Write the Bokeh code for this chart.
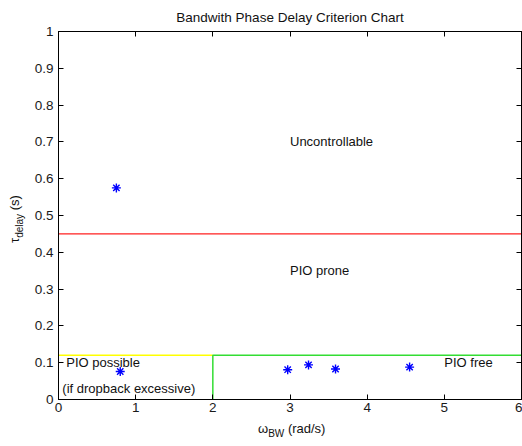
import math
from bokeh.plotting import figure
from bokeh.models import ColumnDataSource, Range1d, LinearAxis, FixedTicker, Div
from bokeh.layouts import row, column
from bokeh.core.properties import value
from bokeh.embed import file_html
from bokeh.resources import INLINE

# ---- data ----
title_text = "Bandwith Phase Delay Criterion Chart"
x_label_main, x_label_sub, x_label_unit = "ω", "BW", "(rad/s)"
y_label_main, y_label_sub, y_label_unit = "τ", "delay", "(s)"

omega_bw = [0.75, 0.80, 2.97, 3.24, 3.59, 4.55]
tau_delay = [0.575, 0.076, 0.081, 0.094, 0.083, 0.088]

x_ticks = [0, 1, 2, 3, 4, 5, 6]
x_tick_labels = ["0", "1", "2", "3", "4", "5", "6"]
y_ticks = [0, 0.1, 0.2, 0.3, 0.4, 0.5, 0.6, 0.7, 0.8, 0.9, 1]
y_tick_labels = ["0", "0.1", "0.2", "0.3", "0.4", "0.5", "0.6", "0.7", "0.8", "0.9", "1"]

# criterion boundaries
red_x = [0, 6]
red_y = [0.45, 0.45]
yellow_x = [0, 2]
yellow_y = [0.12, 0.12]
green_x = [2, 2, 6]
green_y = [0, 0.12, 0.12]

region_labels = ["Uncontrollable", "PIO prone", "PIO possible", "(if dropback excessive)", "PIO free"]
region_x = [3.0, 3.0, 0.1, 0.05, 5.0]
region_y = [0.70, 0.35, 0.10, 0.03, 0.10]

FONT = "Liberation Sans"
FS = "13px"
TXT = "#111111"

p = figure(width=496, height=420, x_range=Range1d(0, 6), y_range=Range1d(0, 1),
           output_backend="svg", toolbar_location=None, margin=0,
           min_border_left=32, min_border_right=1, min_border_top=30, min_border_bottom=21)
p.background_fill_color = "white"
p.border_fill_color = "white"
p.outline_line_color = "black"
p.outline_line_width = 1
p.grid.visible = False

p.title.text = title_text
p.title.align = "center"
p.title.text_font = FONT
p.title.text_font_size = "13.5px"
p.title.text_font_style = "normal"
p.title.text_color = TXT
p.title.standoff = 14
p.title.offset = 0

p.xaxis.ticker = FixedTicker(ticks=x_ticks)
p.yaxis.ticker = FixedTicker(ticks=y_ticks)
p.xaxis.major_label_overrides = dict(zip(x_ticks, x_tick_labels))
p.yaxis.major_label_overrides = dict(zip(y_ticks, y_tick_labels))

for ax in (p.xaxis[0], p.yaxis[0]):
    ax.major_tick_in = 5
    ax.major_tick_out = 0
    ax.minor_tick_line_color = None
    ax.axis_line_color = "black"
    ax.major_tick_line_color = "black"
    ax.major_label_text_font = FONT
    ax.major_label_text_font_size = "13.5px"
    ax.major_label_text_color = "#1a1a1a"
p.xaxis.major_label_standoff = 3
p.yaxis.major_label_standoff = 5

top_axis = LinearAxis(ticker=FixedTicker(ticks=x_ticks),
                      major_label_overrides={t: "" for t in x_ticks})
top_axis.major_label_text_font_size = "1px"
right_axis = LinearAxis(ticker=FixedTicker(ticks=y_ticks),
                        major_label_overrides={t: "" for t in y_ticks})
for ax in (top_axis, right_axis):
    ax.major_tick_in = 5
    ax.major_tick_out = 0
    ax.minor_tick_line_color = None
    ax.major_label_standoff = 0
    ax.axis_line_color = "black"
    ax.major_tick_line_color = "black"
p.add_layout(top_axis, "above")
p.add_layout(right_axis, "right")

# boundaries
p.line(red_x, red_y, line_color="#ff2020", line_width=1.2)
p.line(yellow_x, yellow_y, line_color="#ffff00", line_width=1.5)
p.line(green_x, green_y, line_color="#33dd33", line_width=1.5)

# data points
p.scatter(omega_bw, tau_delay, marker="asterisk", size=9, line_color="#0000ff", line_width=1.4)

# region labels
src = ColumnDataSource(dict(x=region_x, y=region_y, label=region_labels))
p.text(x="x", y="y", text="label", source=src, text_font=value(FONT), text_font_size=FS,
       text_align="left", text_baseline="middle", text_color=TXT)

# axis labels with subscripts (HTML text)
base_css = (f"position:absolute; white-space:nowrap; font-family:'{FONT}'; font-size:{FS};"
            f" line-height:15px; color:{TXT};")
sub_css = "font-size:10px; vertical-align:-4px; line-height:10px;"

x_html = (f'<div style="{base_css} left:232px; top:1px;">{x_label_main}'
          f'<span style="{sub_css}">{x_label_sub}</span> {x_label_unit}</div>')
y_html = (f'<div style="{base_css} left:7px; top:243px; transform:rotate(-90deg);'
          f' transform-origin:0 0;">{y_label_main}'
          f'<span style="{sub_css}">{y_label_sub}</span> {y_label_unit}</div>')

xdiv = Div(text=x_html, width=496, height=26, margin=0,
           styles={"position": "relative", "overflow": "visible"})
ydiv = Div(text=y_html, width=26, height=446, margin=0,
           styles={"position": "relative", "overflow": "visible"})

layout = row(ydiv, column(p, xdiv, spacing=0), spacing=0)

open("out.html", "w").write(file_html(layout, INLINE))
